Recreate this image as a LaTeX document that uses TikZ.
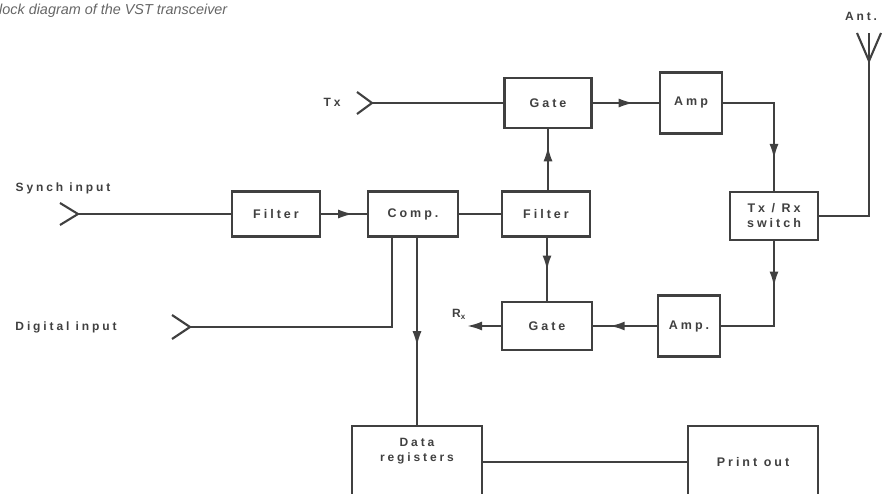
\documentclass[tikz,border=0pt]{standalone}
\usepackage{fontspec}
\newfontfamily\diafont[LetterSpace=24]{Liberation Sans}
\newfontfamily\capfont{Liberation Sans}
\usetikzlibrary{arrows.meta,decorations.markings}
\definecolor{ink}{HTML}{404040}
\tikzset{
  blk/.style={draw=ink, line width=2.2pt, text=ink, align=center,
    font=\diafont\bfseries\fontsize{12.5}{15}\selectfont},
  lbl/.style={text=ink, inner sep=0pt, font=\diafont\bfseries\fontsize{12}{15}\selectfont},
  wire/.style={draw=ink, line width=2.1pt},
  midarrow/.style={postaction={decorate}, decoration={markings,
    mark=at position #1 with {\arrow{Latex[length=15pt,width=9pt]}}}}
}
\begin{document}
\begin{tikzpicture}[x=1pt,y=-1pt]
\useasboundingbox (0,0) rectangle (887,494);
% title (cut at the left edge)
\node[anchor=base west, inner sep=0pt, text=ink!80, font=\capfont\itshape\fontsize{14.4}{16}\selectfont] (title) at (-1,15) {lock diagram of the VST transceiver};
% blocks
\node[blk, minimum width=87pt, minimum height=50pt] (gatetx) at (548,103) {Gate};
\node[blk, minimum width=62pt, minimum height=61pt] (amptx) at (691,103) {Amp};
\node[blk, minimum width=88pt, minimum height=45pt] (filtsyn) at (276,214) {Filter};
\node[blk, minimum width=90pt, minimum height=45pt] (comp) at (413,214) {Comp.};
\node[blk, minimum width=88pt, minimum height=45pt] (filtmid) at (546,214) {Filter};
\node[blk, minimum width=88pt, minimum height=48pt] (switch) at (774,216) {Tx / Rx\\switch};
\node[blk, minimum width=90pt, minimum height=48pt] (gaterx) at (547,326) {Gate};
\node[blk, minimum width=62pt, minimum height=61pt] (amprx) at (689,326) {Amp.};
\node[blk, minimum width=130pt, minimum height=72pt] (dreg) at (417,462) {};
\node[lbl, align=center] (dregtxt) at (417,451) {Data\\registers};
\node[blk, minimum width=130pt, minimum height=72pt] (pout) at (753,462) {Print out};
% inputs and outputs
\coordinate (txin) at (372,103);
\coordinate (synin) at (78,214);
\coordinate (digin) at (190,327);
\coordinate (rxout) at (467,326);
\coordinate (ant) at (869,33);
\node[lbl] (txlbl) at (332,102) {Tx};
\node[lbl] (rxlbl) at (459,314) {R\textsubscript{x}};
\node[lbl] (synlbl) at (63,188) {Synch input};
\node[lbl] (diglbl) at (66,327) {Digital input};
\node[lbl] (antlbl) at (861,16) {Ant.};
\draw[wire] (txin) ++(-15,-11) -- (txin) -- ++(-15,11);
\draw[wire] (synin) ++(-18,-11) -- (synin) -- ++(-18,11);
\draw[wire] (digin) ++(-18,-12) -- (digin) -- ++(-18,12);
\draw[wire] (ant) ++(-12,0) -- ++(12,28) -- ++(12,-28);
% connectors
\draw[wire] (txin) -- (gatetx.west);
\draw[wire, midarrow=0.62] (gatetx.east) -- (amptx.west);
\draw[wire, midarrow=0.77] (amptx.east) -| (switch.north);
\draw[wire] (switch.east) -| (ant);
\draw[wire, midarrow=0.33] (switch.south) |- (amprx.east);
\draw[wire, midarrow=0.74] (amprx.west) -- (gaterx.east);
\draw[wire, -{Latex[length=15pt,width=9pt]}] (gaterx.west) -- (rxout);
\draw[wire, midarrow=0.72] (filtmid.north -| gatetx.south) -- (gatetx.south);
\draw[wire, midarrow=0.52] (filtmid.south -| gaterx.north) -- (gaterx.north);
\draw[wire] (comp.east) -- (filtmid.west);
\draw[wire, midarrow=0.7] (filtsyn.east) -- (comp.west);
\draw[wire] (synin) -- (filtsyn.west);
\draw[wire] (digin) -| ([xshift=25pt]comp.south west);
\draw[wire, midarrow=0.58] (comp.south -| dreg.north) -- (dreg.north);
\draw[wire] (dreg.east) -- (pout.west);
\end{tikzpicture}
\end{document}
